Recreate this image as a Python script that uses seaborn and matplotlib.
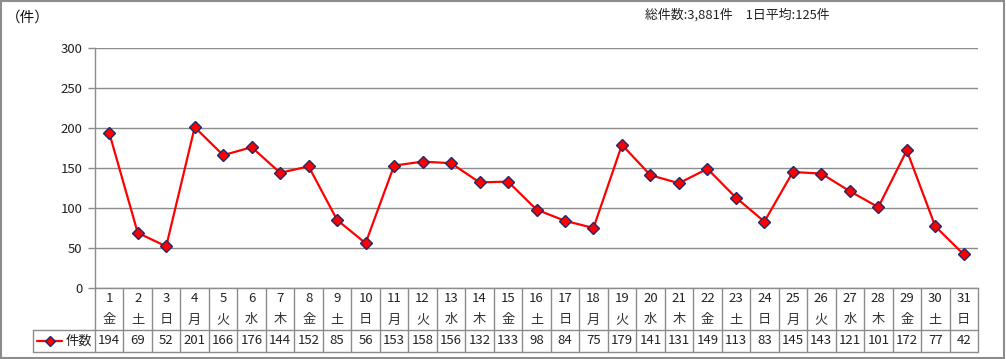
import matplotlib
matplotlib.use("Agg")
import matplotlib.pyplot as plt
import matplotlib.transforms as mtransforms
from matplotlib.lines import Line2D
from matplotlib.patches import Rectangle
import seaborn as sns
import pandas as pd

days = list(range(1, 32))
weekdays = ["金", "土", "日", "月", "火", "水", "木", "金", "土", "日", "月", "火", "水", "木", "金", "土",
            "日", "月", "火", "水", "木", "金", "土", "日", "月", "火", "水", "木", "金", "土", "日"]
counts = [194, 69, 52, 201, 166, 176, 144, 152, 85, 56, 153, 158, 156, 132, 133, 98,
          84, 75, 179, 141, 131, 149, 113, 83, 145, 143, 121, 101, 172, 77, 42]
series_name = "件数"
y_ticks = [0, 50, 100, 150, 200, 250, 300]
unit_label = "（件）"
summary_text = "総件数:3,881件　1日平均:125件"

sns.set_theme(style="white")
plt.rcParams['font.family'] = ['Noto Sans CJK JP', 'DejaVu Sans']

W, H = 1006, 359
fig = plt.figure(figsize=(W / 100, H / 100), dpi=100)
fig.patch.set_facecolor("white")

def fy(py):
    return 1 - py / H

def fx(px):
    return px / W

left, right, top, bottom = 95, 978, 48, 288
ax = fig.add_axes([fx(left), fy(bottom), fx(right) - fx(left), fy(top) - fy(bottom)])

df = pd.DataFrame({"x": list(range(len(days))), "count": counts})
sns.lineplot(data=df, x="x", y="count", ax=ax, color="#FF0000", linewidth=1.6,
             marker="D", markersize=6, markerfacecolor="#FF0000",
             markeredgecolor="#1F2A6B", markeredgewidth=1.0, zorder=5)

ax.set_xlim(-0.5, len(days) - 0.5)
ax.set_ylim(0, 300)
ax.set_yticks(y_ticks)
ax.set_yticklabels([str(v) for v in y_ticks], fontsize=9.5, color="#222222")
ax.set_xticks([])
ax.set_xlabel("")
ax.set_ylabel("")
ax.yaxis.grid(True, color="#8C8C8C", linewidth=1.0)
ax.set_axisbelow(True)
for s in ["top", "right"]:
    ax.spines[s].set_visible(False)
ax.spines["left"].set_color("#8C8C8C")
ax.spines["bottom"].set_color("#8C8C8C")
ax.spines["left"].set_linewidth(1.0)
ax.spines["bottom"].set_linewidth(1.0)
ax.tick_params(axis="y", which="both", left=True, length=5, width=1.0, color="#8C8C8C", pad=4)

# Data table
trans = mtransforms.blended_transform_factory(ax.transData, fig.transFigure)
tc = "#8C8C8C"
row_top, row_mid, row_bot = 288, 330, 352
n = len(days)
for i in range(n + 1):
    xb = i - 0.5
    fig.add_artist(Line2D([xb, xb], [fy(row_top), fy(row_bot)], transform=trans, color=tc, lw=1.0))
for py in (row_mid, row_bot):
    fig.add_artist(Line2D([fx(33), fx(right)], [fy(py), fy(py)], transform=fig.transFigure, color=tc, lw=1.0))
fig.add_artist(Line2D([fx(33), fx(33)], [fy(row_mid), fy(row_bot)], transform=fig.transFigure, color=tc, lw=1.0))

fs = 9.5
for i in range(n):
    fig.text(i, fy(299), str(days[i]), transform=trans, ha="center", va="center", fontsize=fs, color="#222222")
    fig.text(i, fy(320), weekdays[i], transform=trans, ha="center", va="center", fontsize=fs, color="#333333")
    fig.text(i, fy(341), str(counts[i]), transform=trans, ha="center", va="center", fontsize=fs, color="#222222")

# legend key in table
fig.add_artist(Line2D([fx(37), fx(62)], [fy(341), fy(341)], transform=fig.transFigure,
                      color="#FF0000", lw=1.6, marker=None))
fig.add_artist(Line2D([fx(49.5)], [fy(341)], transform=fig.transFigure, color="#FF0000",
                      marker="D", markersize=5.5, markerfacecolor="#FF0000",
                      markeredgecolor="#1F2A6B", markeredgewidth=1.0, lw=0))
fig.text(fx(66), fy(341), series_name, ha="left", va="center", fontsize=fs, color="#222222")

fig.text(fx(6), fy(18), unit_label, ha="left", va="center", fontsize=10.5, color="#111111")
fig.text(fx(645), fy(15), summary_text, ha="left", va="center", fontsize=9.3, color="#222222")

# outer border
fig.add_artist(Rectangle((0.001, 0.002), 0.997, 0.995, transform=fig.transFigure,
                         fill=False, edgecolor="#8C8C8C", lw=1.5))

fig.savefig("out.png", dpi=100)
